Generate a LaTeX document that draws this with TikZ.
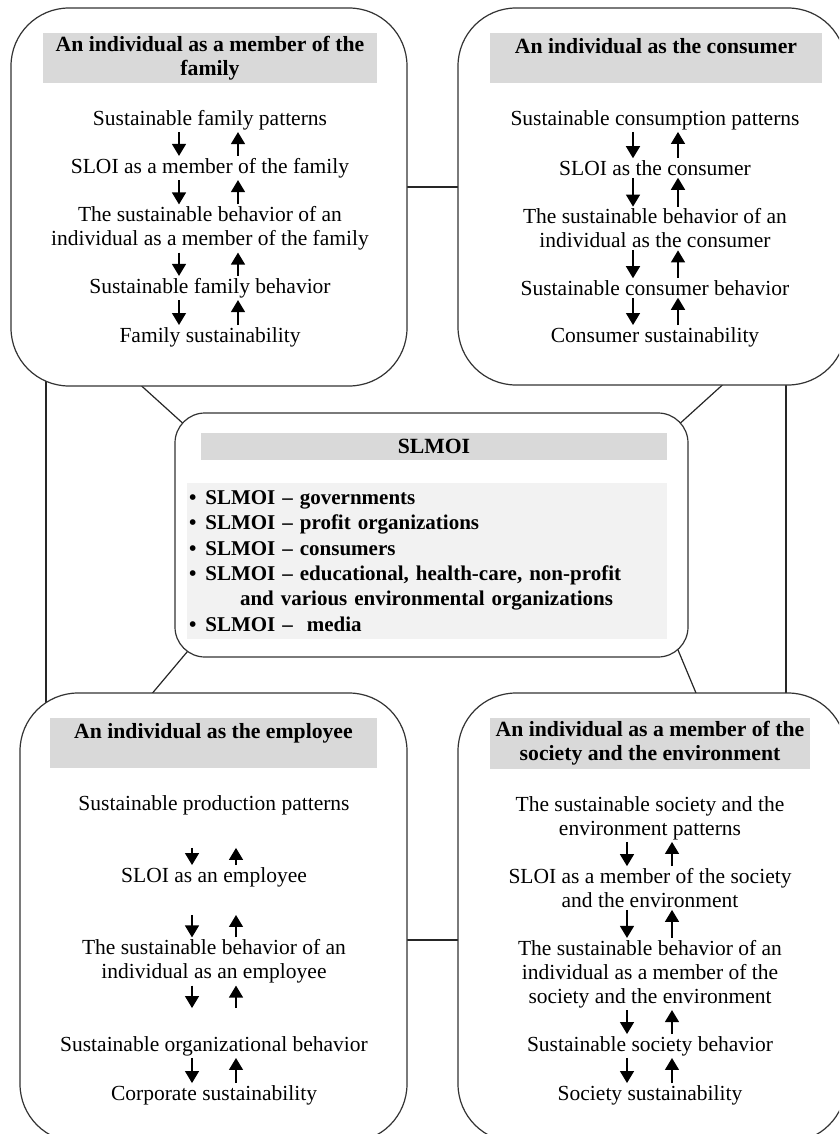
\documentclass[tikz,border=0pt]{standalone}
\usepackage{fontspec}
\setmainfont{Liberation Serif}
\usetikzlibrary{arrows.meta,backgrounds}

\begin{document}
\begin{tikzpicture}[x=1pt,y=-1pt]
	\tikzstyle{panel}=[rectangle,draw=black!80,line width=1.2pt,fill=white,rounded corners=58pt,inner sep=0pt]
	\tikzstyle{band}=[rectangle,fill=black!15,inner sep=0pt,align=center,font=\bfseries\fontsize{21.7}{24}\selectfont]
	\tikzstyle{stage}=[inner sep=1pt,align=center,font=\fontsize{21.5}{24}\selectfont]
	\tikzstyle{edge}=[line width=1.4pt,shorten <=1pt,shorten >=1pt,every edge/.append style={-{Triangle[width=14pt,length=12pt]}}]
	\tikzstyle{link}=[draw,black!85,line width=1.2pt]
	\useasboundingbox (0,0) rectangle (839,1134);
	\clip (0,0) rectangle (839,1134);
	% the five boxes
	\node [panel,minimum width=396pt,minimum height=378pt] (family) at (209,197) {};
	\node [panel,minimum width=388pt,minimum height=377pt] (consumer) at (652,196.5) {};
	\node [panel,minimum width=387pt,minimum height=449pt] (employee) at (213.5,917.5) {};
	\node [panel,minimum width=388pt,minimum height=449pt] (society) at (652,917.5) {};
	\node [panel,rounded corners=30pt,minimum width=513pt,minimum height=244pt] (slmoi) at (431.5,535) {};
	\begin{scope}[on background layer]
		\path[link] ([yshift=10pt]family.center) -- ([yshift=10pt]family.center -| consumer.center);
		\path[link] ([yshift=-22.5pt]employee.center) -- ([yshift=-22.5pt]society.center);
		\path[link] ([xshift=-163pt]family.center) -- ([xshift=-163pt]family.center |- employee.center);
		\path[link] ([xshift=134pt]consumer.center) -- ([xshift=134pt]consumer.center |- society.center);
		\path[link] ([xshift=-70pt,yshift=3pt]family.south) -- ([xshift=13pt,yshift=-15pt]slmoi.north west);
		\path[link] ([xshift=73pt,yshift=3pt]consumer.south) -- ([xshift=-13pt,yshift=-15pt]slmoi.north east);
		\path[link] ([xshift=18pt,yshift=12pt]slmoi.south west) -- ([xshift=-63pt,yshift=-3pt]employee.north);
		\path[link] ([xshift=-12pt,yshift=11pt]slmoi.south east) -- ([xshift=45pt,yshift=-3pt]society.north);
	\end{scope}
	% family
	\node [band,minimum width=334pt,minimum height=50pt] (fhead) at (210,58) {An individual as a member of the\\family};
	\node [stage] (f1) at (210,120) {Sustainable family patterns};
	\node [stage] (f2) at (210,168) {SLOI as a member of the family};
	\node [stage] (f3) at (210,228.5) {The sustainable behavior of an\\individual as a member of the family};
	\node [stage] (f4) at (210,288) {Sustainable family behavior};
	\node [stage] (f5) at (210,337) {Family sustainability};
	\path[edge] ([xshift=-31pt]f1.south) edge ([xshift=-31pt]f1.south |- f2.north) ([xshift=28pt]f2.north) edge ([xshift=28pt]f2.north |- f1.south);
	\path[edge] ([xshift=-31pt]f2.south) edge ([xshift=-31pt]f2.south |- f3.north) ([xshift=28pt]f3.north) edge ([xshift=28pt]f3.north |- f2.south);
	\path[edge] ([xshift=-31pt]f3.south) edge ([xshift=-31pt]f3.south |- f4.north) ([xshift=28pt]f4.north) edge ([xshift=28pt]f4.north |- f3.south);
	\path[edge] ([xshift=-31pt]f4.south) edge ([xshift=-31pt]f4.south |- f5.north) ([xshift=28pt]f5.north) edge ([xshift=28pt]f5.north |- f4.south);
	% consumer
	\node [band,minimum width=332pt,minimum height=50pt] (chead) at (656,58) {An individual as the consumer\\\mbox{}};
	\node [stage] (c1) at (655,120) {Sustainable consumption patterns};
	\node [stage] (c2) at (655,168) {SLOI as the consumer};
	\node [stage] (c3) at (655,228.5) {The sustainable behavior of an\\individual as the consumer};
	\node [stage] (c4) at (655,288) {Sustainable consumer behavior};
	\node [stage] (c5) at (655,337) {Consumer sustainability};
	\path[edge] ([xshift=-22pt]c1.south) edge ([xshift=-22pt]c1.south |- c2.north) ([xshift=23pt]c2.north) edge ([xshift=23pt]c2.north |- c1.south);
	\path[edge] ([xshift=-22pt]c2.south) edge ([xshift=-22pt]c2.south |- c3.north) ([xshift=23pt]c3.north) edge ([xshift=23pt]c3.north |- c2.south);
	\path[edge] ([xshift=-22pt]c3.south) edge ([xshift=-22pt]c3.south |- c4.north) ([xshift=23pt]c4.north) edge ([xshift=23pt]c4.north |- c3.south);
	\path[edge] ([xshift=-22pt]c4.south) edge ([xshift=-22pt]c4.south |- c5.north) ([xshift=23pt]c5.north) edge ([xshift=23pt]c5.north |- c4.south);
	% slmoi
	\node [band,minimum width=466pt,minimum height=27pt] (shead) at (434,446.5) {SLMOI};
	\node [band,fill=black!5,align=left,text width=476pt,inner xsep=2pt,minimum height=156pt,font=\bfseries\fontsize{21}{25.4}\selectfont] (slist) at (427,561) {\textbullet\hspace{9pt}SLMOI -- governments\\
		\textbullet\hspace{9pt}SLMOI -- profit organizations\\
		\textbullet\hspace{9pt}SLMOI -- consumers\\
		\textbullet\hspace{9pt}SLMOI -- educational, health-care, non-profit\\
		\hspace*{51pt}and various environmental organizations\\
		\textbullet\hspace{9pt}SLMOI --\ \ media};
	% employee
	\node [band,minimum width=327pt,minimum height=50pt] (ehead) at (213.5,743) {An individual as the employee\\\mbox{}};
	\node [stage] (e1) at (214,805) {Sustainable production patterns};
	\node [stage] (e2) at (214,877) {SLOI as an employee};
	\node [stage] (e3) at (214,961.5) {The sustainable behavior of an\\individual as an employee};
	\node [stage] (e4) at (214,1046) {Sustainable organizational behavior};
	\node [stage] (e5) at (214,1095) {Corporate sustainability};
	\path[edge] ([xshift=-22pt]e1.south) edge[shorten <=32pt] ([xshift=-22pt]e1.south |- e2.north) ([xshift=22pt]e2.north) edge[shorten >=32pt] ([xshift=22pt]e2.north |- e1.south);
	\path[edge] ([xshift=-22pt]e2.south) edge[shorten <=27pt] ([xshift=-22pt]e2.south |- e3.north) ([xshift=22pt]e3.north) edge[shorten >=27pt] ([xshift=22pt]e3.north |- e2.south);
	\path[edge] ([xshift=-22pt]e3.south) edge[shorten >=27pt] ([xshift=-22pt]e3.south |- e4.north) ([xshift=22pt]e4.north) edge[shorten <=27pt] ([xshift=22pt]e4.north |- e3.south);
	\path[edge] ([xshift=-22pt]e4.south) edge ([xshift=-22pt]e4.south |- e5.north) ([xshift=22pt]e5.north) edge ([xshift=22pt]e5.north |- e4.south);
	% society
	\node [band,minimum width=320pt,minimum height=51pt] (shead2) at (650,743.5) {An individual as a member of the\\society and the environment};
	\node [stage] (s1) at (650,818) {The sustainable society and the\\environment patterns};
	\node [stage] (s2) at (650,888) {SLOI as a member of the society\\and the environment};
	\node [stage] (s3) at (650,974) {The sustainable behavior of an\\individual as a member of the\\society and the environment};
	\node [stage] (s4) at (650,1046) {Sustainable society behavior};
	\node [stage] (s5) at (650,1095) {Society sustainability};
	\path[edge] ([xshift=-23pt]s1.south) edge ([xshift=-23pt]s1.south |- s2.north) ([xshift=22pt]s2.north) edge ([xshift=22pt]s2.north |- s1.south);
	\path[edge] ([xshift=-23pt]s2.south) edge ([xshift=-23pt]s2.south |- s3.north) ([xshift=22pt]s3.north) edge ([xshift=22pt]s3.north |- s2.south);
	\path[edge] ([xshift=-23pt]s3.south) edge ([xshift=-23pt]s3.south |- s4.north) ([xshift=22pt]s4.north) edge ([xshift=22pt]s4.north |- s3.south);
	\path[edge] ([xshift=-23pt]s4.south) edge ([xshift=-23pt]s4.south |- s5.north) ([xshift=22pt]s5.north) edge ([xshift=22pt]s5.north |- s4.south);
\end{tikzpicture}
\end{document}
